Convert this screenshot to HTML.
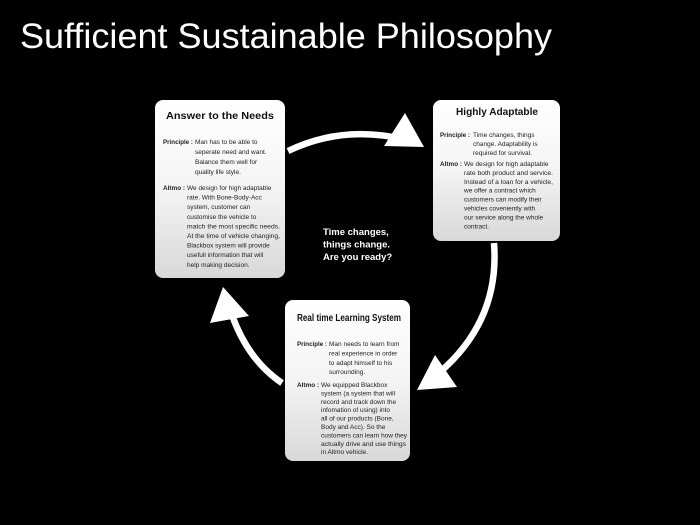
<!DOCTYPE html>
<html><head><meta charset="utf-8"><style>
html,body{margin:0;padding:0;background:#000;width:700px;height:525px;overflow:hidden}
svg{display:block}
text{font-family:"Liberation Sans",sans-serif}
.t{font-size:6.5px;fill:#222}
.b{font-size:6.3px;font-weight:bold;fill:#222}
.h{font-size:10px;font-weight:bold;fill:#111}
</style></head><body>
<svg width="700" height="525" viewBox="0 0 700 525">
<defs>
<linearGradient id="g" x1="0" y1="0" x2="0" y2="1">
<stop offset="0" stop-color="#ffffff"/><stop offset="0.5" stop-color="#f4f4f4"/><stop offset="1" stop-color="#d8d8d8"/>
</linearGradient>
</defs>
<text x="20" y="48" font-size="35" fill="#fff" textLength="532" lengthAdjust="spacingAndGlyphs">Sufficient Sustainable Philosophy</text>

<g fill="none" stroke="#fff" stroke-width="6.5">
<path d="M288,151 Q340,126 398,138"/>
<path d="M494,243 Q500,320 440,372"/>
<path d="M282,383 Q248,360 232,315"/>
</g>
<g fill="#fff">
<polygon points="405,113 424,147 384,146"/>
<polygon points="435,355 417,390 457,387"/>
<polygon points="223,287 210,323 249,316"/>
</g>

<rect x="155" y="100" width="130" height="178" rx="8" fill="url(#g)"/>
<text class="h" x="166" y="119" textLength="108" lengthAdjust="spacingAndGlyphs">Answer to the Needs</text>
<text class="b" x="163" y="144" textLength="30" lengthAdjust="spacingAndGlyphs">Principle :</text>
<text class="t" x="195" y="144">Man has to be able to</text>
<text class="t" x="195" y="154">seperate need and want.</text>
<text class="t" x="195" y="164">Balance them well for</text>
<text class="t" x="195" y="174">quality life style.</text>
<text class="b" x="163" y="190" textLength="22" lengthAdjust="spacingAndGlyphs">Altmo :</text>
<text class="t" x="187" y="190">We design for high adaptable</text>
<text class="t" x="187" y="199.6">rate. With Bone-Body-Acc</text>
<text class="t" x="187" y="209.2">system, customer can</text>
<text class="t" x="187" y="218.8">customise the vehicle to</text>
<text class="t" x="187" y="228.4" textLength="93" lengthAdjust="spacingAndGlyphs">match the most specific needs.</text>
<text class="t" x="187" y="238" textLength="93" lengthAdjust="spacingAndGlyphs">At the time of vehicle changing,</text>
<text class="t" x="187" y="247.6">Blackbox system will provide</text>
<text class="t" x="187" y="257.2">usefull information that will</text>
<text class="t" x="187" y="266.8">help making decision.</text>

<rect x="433" y="100" width="127" height="141" rx="8" fill="url(#g)"/>
<text class="h" x="456" y="115" textLength="82" lengthAdjust="spacingAndGlyphs">Highly Adaptable</text>
<text class="b" x="440" y="137" textLength="30" lengthAdjust="spacingAndGlyphs">Principle :</text>
<text class="t" x="473" y="137">Time changes, things</text>
<text class="t" x="473" y="146">change. Adaptability is</text>
<text class="t" x="473" y="155">required for survival.</text>
<text class="b" x="440" y="166" textLength="22" lengthAdjust="spacingAndGlyphs">Altmo :</text>
<text class="t" x="464" y="166">We design for high adaptable</text>
<text class="t" x="464" y="174.9" textLength="89" lengthAdjust="spacingAndGlyphs">rate both product and service.</text>
<text class="t" x="464" y="183.8" textLength="89" lengthAdjust="spacingAndGlyphs">Instead of a loan for a vehicle,</text>
<text class="t" x="464" y="192.7">we offer a contract which</text>
<text class="t" x="464" y="201.6">customers can modify their</text>
<text class="t" x="464" y="210.5">vehicles coveniently with</text>
<text class="t" x="464" y="219.4">our service along the whole</text>
<text class="t" x="464" y="228.3">contract.</text>

<rect x="285" y="300" width="125" height="161" rx="8" fill="url(#g)"/>
<text class="h" x="297" y="321" textLength="104" lengthAdjust="spacingAndGlyphs">Real time Learning System</text>
<text class="b" x="297" y="346" textLength="30" lengthAdjust="spacingAndGlyphs">Principle :</text>
<text class="t" x="329" y="346">Man needs to learn from</text>
<text class="t" x="329" y="355.4">real experience in order</text>
<text class="t" x="329" y="364.8">to adapt himself to his</text>
<text class="t" x="329" y="374.2">surrounding.</text>
<text class="b" x="297" y="387" textLength="22" lengthAdjust="spacingAndGlyphs">Altmo :</text>
<text class="t" x="321" y="387">We equipped Blackbox</text>
<text class="t" x="321" y="395.4">system (a system that will</text>
<text class="t" x="321" y="403.8">record and track down the</text>
<text class="t" x="321" y="412.2">infomation of using) into</text>
<text class="t" x="321" y="420.6">all of our products (Bone,</text>
<text class="t" x="321" y="429">Body and Acc). So the</text>
<text class="t" x="321" y="437.4" textLength="86" lengthAdjust="spacingAndGlyphs">customers can learn how they</text>
<text class="t" x="321" y="445.8" textLength="85" lengthAdjust="spacingAndGlyphs">actually drive and use things</text>
<text class="t" x="321" y="454.2">in Altmo vehicle.</text>

<g font-size="9.5" font-weight="bold" fill="#fff">
<text x="323" y="235">Time changes,</text>
<text x="323" y="247.5">things change.</text>
<text x="323" y="260">Are you ready?</text>
</g>
</svg>
</body></html>
